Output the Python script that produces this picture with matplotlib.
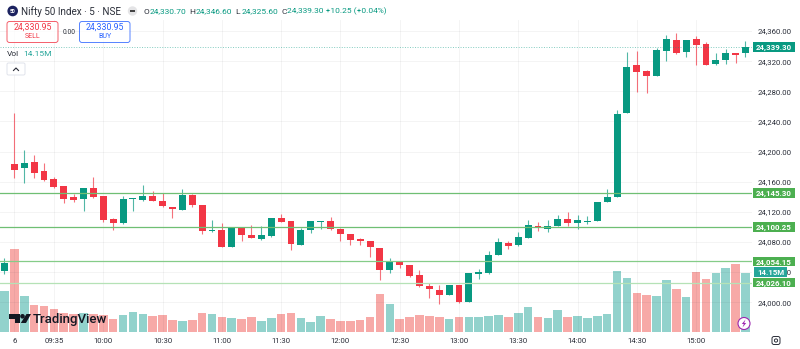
import matplotlib
matplotlib.use('Agg')
import matplotlib.pyplot as plt
from matplotlib.patches import FancyBboxPatch, Circle, Rectangle, Polygon

plt.rcParams['font.family'] = ['Roboto', 'DejaVu Sans']

# 5 minute candles, the first one is the last bar of the previous day
opens = [24041.4, 24183.5, 24178.6, 24185.8, 24174.2, 24163.2, 24154.3, 24140.1, 24136.6, 24152.1,
         24140.6, 24110.1, 24105.6, 24136.6, 24135.7, 24141.0, 24134.8, 24126.4, 24122.8, 24142.4,
         24128.7, 24094.9, 24095.5, 24073.3, 24098.5, 24088.8, 24083.9, 24088.3, 24111.4, 24107.8,
         24075.5, 24096.3, 24106.5, 24107.8, 24096.8, 24090.2, 24084.3, 24080.9, 24071.6, 24042.3,
         24053.0, 24049.0, 24035.7, 24021.5, 24016.2, 24009.9, 24022.4, 24000.2, 24037.8, 24038.7,
         24063.1, 24078.6, 24075.5, 24085.2, 24101.6, 24097.6, 24101.6, 24110.9, 24105.6, 24106.9,
         24107.4, 24133.5, 24139.3, 24251.7, 24315.1, 24306.7, 24300.0, 24334.0, 24348.3, 24332.7,
         24349.2, 24342.6, 24316.0, 24321.3, 24331.0, 24330.7]
highs = [24059.1, 24250.9, 24202.1, 24195.5, 24185.3, 24166.7, 24154.3, 24143.3, 24151.3, 24165.9,
         24140.6, 24111.4, 24141.0, 24138.0, 24155.6, 24148.1, 24144.6, 24126.4, 24149.9, 24143.3,
         24128.7, 24109.2, 24104.8, 24098.5, 24098.5, 24102.1, 24101.2, 24112.2, 24117.1, 24107.8,
         24098.9, 24107.4, 24108.2, 24113.5, 24098.1, 24090.2, 24085.6, 24080.9, 24071.6, 24059.1,
         24053.8, 24049.0, 24042.7, 24025.1, 24022.4, 24022.4, 24022.4, 24038.3, 24043.7, 24067.6,
         24084.8, 24081.3, 24093.6, 24109.2, 24106.9, 24109.2, 24115.4, 24119.4, 24116.2, 24114.5,
         24132.7, 24149.9, 24255.3, 24331.9, 24334.1, 24308.4, 24337.2, 24354.9, 24357.2, 24348.7,
         24354.0, 24345.2, 24331.0, 24335.9, 24331.0, 24346.6]
lows = [24037.0, 24164.5, 24157.9, 24165.3, 24161.4, 24151.3, 24132.1, 24133.5, 24121.1, 24138.4,
        24106.9, 24095.9, 24103.4, 24121.5, 24134.4, 24134.8, 24126.8, 24111.8, 24122.4, 24126.0,
        24091.0, 24092.8, 24073.3, 24073.3, 24081.7, 24085.6, 24082.6, 24086.2, 24106.9, 24068.9,
        24075.5, 24091.5, 24096.8, 24095.9, 24081.7, 24075.9, 24075.9, 24060.4, 24029.8, 24039.1,
        24045.0, 24033.0, 24019.7, 24005.9, 23998.0, 24009.9, 23999.3, 23999.8, 24030.8, 24037.0,
        24062.3, 24070.6, 24074.6, 24084.8, 24094.9, 24093.6, 24101.2, 24101.6, 24096.8, 24103.8,
        24107.4, 24133.1, 24139.3, 24251.7, 24279.6, 24278.3, 24300.0, 24320.8, 24329.3, 24325.3,
        24314.7, 24315.5, 24315.5, 24316.8, 24318.1, 24325.6]
closes = [24052.4, 24175.6, 24184.9, 24171.2, 24162.3, 24153.4, 24137.4, 24135.7, 24151.3, 24139.3,
          24109.2, 24105.6, 24137.0, 24138.0, 24141.0, 24134.8, 24127.4, 24123.4, 24142.4, 24129.1,
          24094.9, 24095.9, 24073.3, 24098.5, 24088.8, 24085.6, 24088.6, 24112.2, 24106.9, 24077.7,
          24095.9, 24107.4, 24107.8, 24096.8, 24090.2, 24083.0, 24081.7, 24073.3, 24043.1, 24054.3,
          24049.0, 24035.2, 24021.1, 24017.1, 24009.9, 24022.4, 24000.6, 24038.3, 24040.1, 24062.7,
          24079.9, 24074.6, 24086.2, 24102.9, 24099.8, 24101.6, 24110.1, 24105.6, 24108.8, 24108.2,
          24132.7, 24140.1, 24250.4, 24312.0, 24306.2, 24300.4, 24334.6, 24349.6, 24331.0, 24348.7,
          24341.6, 24315.5, 24321.3, 24330.6, 24328.7, 24339.3]
volumes = [9.76, 19.76, 8.56, 6.33, 6.16, 5.44, 4.41, 4.17, 4.56, 4.17,
           4.0, 3.12, 4.0, 4.72, 4.32, 3.84, 4.0, 2.81, 2.49, 2.73,
           4.48, 4.17, 3.45, 3.29, 2.97, 3.53, 2.64, 3.29, 4.17, 4.48,
           3.29, 2.33, 3.76, 2.97, 2.49, 2.57, 2.73, 3.6, 9.04, 6.64,
           2.97, 3.45, 4.0, 3.84, 3.6, 2.97, 3.45, 3.45, 3.45, 3.76,
           3.93, 3.6, 4.48, 5.85, 3.45, 3.29, 5.2, 3.6, 3.76, 3.29,
           3.84, 4.17, 14.48, 12.95, 9.35, 8.87, 8.56, 12.4, 10.17, 8.39,
           14.32, 12.64, 14.08, 15.2, 16.16, 14.15]

price_ticks = [24000, 24040, 24080, 24120, 24160, 24200, 24240, 24280, 24320, 24360]
time_ticks = [1, 5, 10, 16, 22, 28, 34, 40, 46, 52, 58, 64, 70]
time_labels = ['6', '09:35', '10:00', '10:30', '11:00', '11:30', '12:00', '12:30',
               '13:00', '13:30', '14:00', '14:30', '15:00']
levels = [24145.30, 24100.25, 24054.15, 24026.10]
level_colors = ['#6fbf73', '#6fbf73', '#85cc88', '#b5e2b6']
last_price = 24339.30

GREEN = '#089981'
RED = '#f23645'
TEXT = '#2a2e39'
W, H = 800, 349

fig = plt.figure(figsize=(8, 3.49), dpi=100)

# volume underneath, price on top, both over the same rectangle
rect = [0, (H - 331.7) / H, 752 / W, (331.7 - 20) / H]
ax_vol = fig.add_axes(rect, zorder=1)
ax = fig.add_axes(rect, zorder=2)
ax.patch.set_alpha(0)

xs = list(range(len(opens)))
up = [c >= o for o, c in zip(opens, closes)]

ax_vol.bar(xs, volumes, width=0.87, color=['#92d2cc' if u else '#f7a9a7' for u in up])
ax_vol.set_ylim(0, 74.75)
ax_vol.set_xlim(-0.455, 75.66)
ax_vol.axis('off')

colors = [GREEN if u else RED for u in up]
ax.vlines(xs, lows, highs, colors=colors, linewidth=0.8, alpha=0.7)
ax.bar(xs, [abs(c - o) for o, c in zip(opens, closes)], bottom=[min(o, c) for o, c in zip(opens, closes)],
       width=0.7, color=colors)

ax.set_xlim(-0.455, 75.66)
ax.set_ylim(23960.8, 24374.8)
ax.grid(True, color=TEXT, alpha=0.05, linewidth=0.7)
ax.set_axisbelow(True)
for s in ax.spines.values():
    s.set_visible(False)

ax.set_xticks(time_ticks)
ax.set_xticklabels(time_labels)
ax.set_yticks(price_ticks)
ax.set_yticklabels([f'{p:,.2f}' for p in price_ticks])
ax.yaxis.tick_right()
ax.tick_params(axis='both', length=0, labelsize=5.6, labelcolor=TEXT)
ax.tick_params(axis='y', pad=4.3)
ax.tick_params(axis='x', pad=4.6)

ytrans = ax.get_yaxis_transform()


# price tag on the scale, x positions are in pixels
def tag(price, label, col, x0=753, x1=795, z=6):
    ax.add_patch(Rectangle((x0 / 752, price - 6.5), (x1 - x0) / 752, 13, transform=ytrans, fc=col, ec='none',
                           clip_on=False, zorder=z))
    ax.text((x0 + x1) / 2 / 752, price, label, transform=ytrans, ha='center', va='center_baseline', fontsize=5.7,
            color='white', fontweight='bold', clip_on=False, zorder=z + 0.5)


# support / resistance lines with their price tags
for lv, col in zip(levels, level_colors):
    ax.axhline(lv, color=col, linewidth=0.9)
    tag(lv, f'{lv:,.2f}', '#4caf50')

ax.axhline(last_price, color=GREEN, linewidth=0.7, linestyle=(0, (1, 1.6)), alpha=0.5)
tag(last_price, f'{last_price:,.2f}', GREEN)
tag(24040.5, '14.15M', '#26a69a', x0=754, x1=787, z=7)

# everything from the trading UI goes on a pixel overlay
ui = fig.add_axes([0, 0, 1, 1], zorder=5)
ui.set_xlim(0, W)
ui.set_ylim(H, 0)
ui.axis('off')
ui.patch.set_alpha(0)

ui.add_patch(Circle((12.7, 11), 5.3, fc='#1c2360', ec='none'))
ui.text(12.7, 11.2, '50', color='white', fontsize=3.6, ha='center', va='center', fontweight='bold')
ui.text(21, 11.5, 'Nifty 50 Index · 5 · NSE', fontsize=7.1, color=TEXT, va='center')
ui.add_patch(Circle((132.5, 11), 4.7, fc='#e4e4e6', ec='none'))
ui.add_patch(Rectangle((129.7, 10.3), 5.6, 1.5, fc='#444444', ec='none'))

ohlc_x = [143, 189, 235, 281]
ohlc_k = ['O', 'H', 'L', 'C']
ohlc_v = ['24,330.70', '24,346.60', '24,325.60', '24,339.30 +10.25 (+0.04%)']
for x, k, v in zip(ohlc_x, ohlc_k, ohlc_v):
    ui.text(x, 11.5, k, fontsize=6.0, color=TEXT, va='center')
    ui.text(x + 6.2, 11.5, v, fontsize=6.0, color=GREEN, va='center')

for x0, x1, col, val, lab in [(7, 58, RED, '24,330.95', 'SELL'), (79.5, 130, '#2962ff', '24,330.95', 'BUY')]:
    ui.add_patch(FancyBboxPatch((x0, 21.5), x1 - x0, 21, boxstyle='round,pad=0,rounding_size=2.5',
                                fc='white', ec=col, lw=0.7, alpha=0.8))
    ui.text((x0 + x1) / 2, 27.5, val, fontsize=6.3, color=col, ha='center', va='center')
    ui.text((x0 + x1) / 2, 36.5, lab, fontsize=5, color=col, ha='center', va='center')
ui.text(68.7, 32, '0.00', fontsize=4.8, color=TEXT, ha='center', va='center')

ui.text(7, 53.5, 'Vol', fontsize=6, color=TEXT, va='center')
ui.text(23.5, 53.5, '14.15M', fontsize=6, color='#26a69a', va='center')
ui.add_patch(FancyBboxPatch((7, 63), 18, 12, boxstyle='round,pad=0,rounding_size=1.5', fc='white',
                            ec='#e0e3eb', lw=0.7))
ui.plot([13.5, 16, 18.5], [70.5, 68, 70.5], color=TEXT, lw=0.8)

# TradingView logo
ui.add_patch(Polygon([(9, 314), (20, 314), (20, 323), (15, 323), (15, 319), (9, 319)], fc='#131722', ec='none'))
ui.add_patch(Circle((22.5, 316.3), 2.3, fc='#131722', ec='none'))
ui.add_patch(Polygon([(26.5, 314), (31, 314), (26, 323), (20.8, 323)], fc='#131722', ec='none'))
ui.text(32.5, 319, 'TradingView', fontsize=9.5, color='#131722', va='center', fontweight='medium')

# lightning button and settings gear
ui.add_patch(Circle((744, 323.5), 6, fc='white', ec='#9c27b0', lw=0.8))
ui.add_patch(Polygon([(745.5, 319.5), (741.8, 324), (743.8, 324), (742.5, 327.5), (746.2, 323), (744.2, 323)],
                     fc='#9c27b0', ec='none'))
ui.add_patch(FancyBboxPatch((772, 336.5), 8, 8, boxstyle='round,pad=0,rounding_size=2', fc='white',
                            ec=TEXT, lw=0.7))
ui.add_patch(Circle((776, 340.5), 1.6, fc='white', ec=TEXT, lw=0.7))

fig.savefig('out.png', dpi=100)
